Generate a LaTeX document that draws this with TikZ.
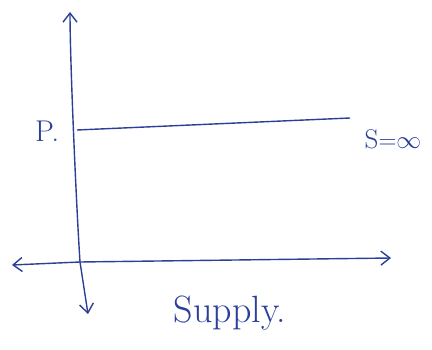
\documentclass[tikz,border=0pt]{standalone}
\usetikzlibrary{arrows.meta}
\definecolor{ink}{HTML}{2B3F98}
\begin{document}
\begin{tikzpicture}[x=1pt,y=-1pt,
  axis/.style={draw=ink,line width=1.4pt,-{Straight Barb[length=9pt,width=14pt]}},
  line/.style={draw=ink,line width=1.4pt},
  lbl/.style={text=ink,inner sep=0pt}]
\useasboundingbox (0,0) rectangle (432,350);
\coordinate (ytop) at (70,12);
\coordinate (ybot) at (88,314);
\coordinate (xl) at (12,265);
\coordinate (xr) at (391,258);
\coordinate (o) at (80,262);
\coordinate (pl) at (77,130);
\coordinate (pr) at (350,118);
\draw[axis] (o) .. controls (76,200) and (70,60) .. (ytop);
\draw[axis] (o) -- (ybot);
\draw[axis] (o) -- (xl);
\draw[axis] (o) -- (xr);
\draw[line] (pl) -- (pr);
\node[lbl,font=\fontsize{30}{30}\selectfont] (p) at (47,131) {P.};
\node[lbl,font=\fontsize{27}{27}\selectfont] (s) at (393,139) {S${=}\infty$};
\node[lbl,font=\fontsize{38}{38}\selectfont] (sup) at (230,313) {Supply.};
\end{tikzpicture}
\end{document}
